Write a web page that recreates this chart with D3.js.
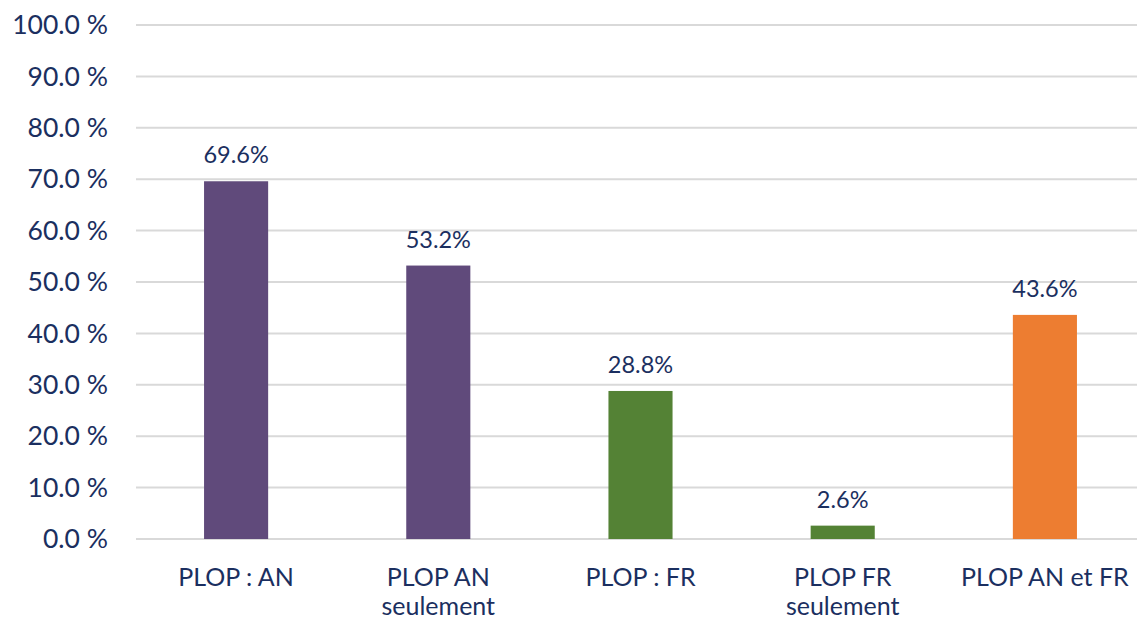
<!DOCTYPE html>
<meta charset="utf-8">
<style>
  body { margin: 0; background: #fff; }
  text { font-family: Lato, "Open Sans", sans-serif; fill: #1b2f60; }
</style>
<body>
<div class="chart"></div>
<script src="https://d3js.org/d3.v7.min.js"></script>
<script>
    const categories = [["PLOP : AN"], ["PLOP AN", "seulement"], ["PLOP : FR"], ["PLOP FR", "seulement"], ["PLOP AN et FR"]];
    const values = [69.6, 53.2, 28.8, 2.6, 43.6];
    const colors = ["#604a7b", "#604a7b", "#548235", "#548235", "#ed7d31"];
    const ticks = [0, 10, 20, 30, 40, 50, 60, 70, 80, 90, 100];

    let width = 1137, height = 623;
    let margin = {top: 25, left: 135, bottom: 84, right: -9};

    let svg = d3.select(".chart").append("svg")
        .attr("width", width)
        .attr("height", height);

    let x = d3.scaleBand()
        .domain(d3.range(values.length))
        .range([margin.left, width - margin.right])
        .paddingInner(0.683)
        .paddingOuter(0.683 / 2);

    let y = d3.scaleLinear()
        .domain([0, 100])
        .range([height - margin.bottom, margin.top]);

    // gridlines
    svg.append("g")
        .selectAll("line")
        .data(ticks)
        .join("line")
        .attr("x1", 136)
        .attr("x2", width)
        .attr("y1", d => y(d))
        .attr("y2", d => y(d))
        .attr("stroke", "#d9d9d9")
        .attr("stroke-width", 2);

    // y tick labels
    svg.append("g")
        .selectAll("text")
        .data(ticks)
        .join("text")
        .attr("x", 108)
        .attr("y", d => y(d))
        .attr("dy", "0.35em")
        .attr("text-anchor", "end")
        .style("font-size", "26.5px")
        .text(d => d.toFixed(1) + " %");

    // bars
    svg.append("g")
        .selectAll("rect")
        .data(values)
        .join("rect")
        .attr("x", (d, i) => x(i))
        .attr("width", x.bandwidth())
        .attr("y", d => y(d))
        .attr("height", d => y(0) - y(d))
        .attr("fill", (d, i) => colors[i]);

    // value labels
    svg.append("g")
        .selectAll("text")
        .data(values)
        .join("text")
        .attr("x", (d, i) => x(i) + x.bandwidth() / 2)
        .attr("y", d => y(d) - 18)
        .attr("text-anchor", "middle")
        .style("font-size", "23.5px")
        .text(d => d.toFixed(1) + "%");

    // category labels
    let cat = svg.append("g")
        .selectAll("text")
        .data(categories)
        .join("text")
        .attr("x", (d, i) => x(i) + x.bandwidth() / 2)
        .attr("y", 586)
        .attr("text-anchor", "middle")
        .style("font-size", "25px");
    cat.selectAll("tspan")
        .data(d => d)
        .join("tspan")
        .attr("x", function () { return this.parentNode.getAttribute("x"); })
        .attr("dy", (d, i) => i === 0 ? 0 : 29)
        .text(d => d);
</script>
